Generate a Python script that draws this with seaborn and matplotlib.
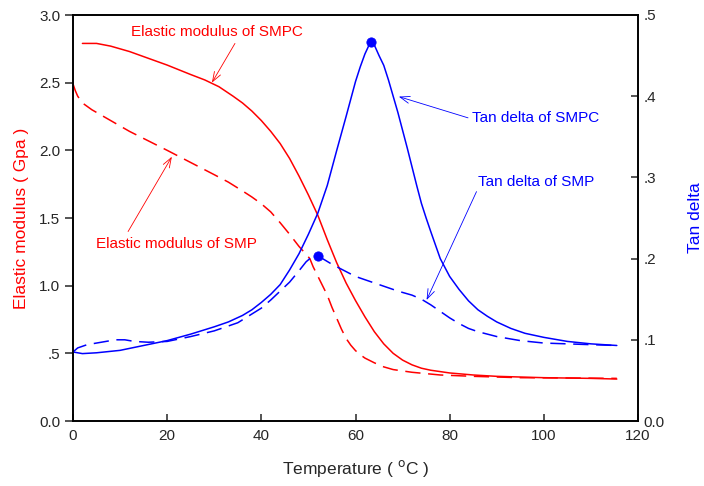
import numpy as np
import pandas as pd
import matplotlib
matplotlib.use("Agg")
import matplotlib.pyplot as plt
import matplotlib.ticker as mtick
import seaborn as sns

# Elastic modulus (GPa), left axis
temp_smpc_mod = [2, 5, 8, 12, 16, 20, 25, 28, 31, 34, 36, 38, 40, 42, 44, 46, 48, 50, 52, 54, 56, 58, 60, 62, 64, 66, 68, 70, 72, 74, 76, 80, 85, 90, 100, 110, 115.5]
mod_smpc = [2.79, 2.79, 2.77, 2.73, 2.68, 2.63, 2.56, 2.52, 2.47, 2.40, 2.35, 2.29, 2.22, 2.14, 2.05, 1.94, 1.81, 1.67, 1.52, 1.34, 1.17, 1.02, 0.89, 0.77, 0.66, 0.57, 0.50, 0.45, 0.415, 0.39, 0.375, 0.355, 0.34, 0.33, 0.32, 0.315, 0.31]

temp_smp_mod = [0, 0.5, 1, 2, 4, 8, 12, 16, 20, 25, 30, 33, 36, 38, 40, 42, 44, 46, 48, 50.3, 51, 52, 53, 54, 55, 56, 57, 58, 59, 60, 61, 62, 64, 66, 68, 72, 78, 85, 95, 105, 115.5]
mod_smp = [2.49, 2.44, 2.40, 2.35, 2.30, 2.22, 2.14, 2.07, 2.00, 1.91, 1.82, 1.765, 1.70, 1.655, 1.605, 1.545, 1.465, 1.38, 1.29, 1.20, 1.14, 1.07, 1.00, 0.93, 0.84, 0.76, 0.68, 0.61, 0.56, 0.52, 0.49, 0.465, 0.43, 0.40, 0.38, 0.36, 0.34, 0.33, 0.32, 0.318, 0.315]

# Tan delta, right axis
temp_smpc_tan = [0, 2, 5, 10, 15, 20, 25, 30, 33, 36, 38, 40, 42, 44, 46, 48, 50, 52, 54, 56, 58, 60, 61, 62, 63.2, 64, 65, 66, 67, 68, 69, 70, 71, 72, 73, 74, 75, 76, 78, 80, 82, 84, 86, 88, 90, 93, 96, 100, 105, 110, 115.5]
tan_smpc = [0.085, 0.083, 0.084, 0.087, 0.093, 0.099, 0.107, 0.116, 0.122, 0.130, 0.137, 0.146, 0.156, 0.168, 0.186, 0.206, 0.230, 0.256, 0.290, 0.333, 0.375, 0.418, 0.436, 0.452, 0.467, 0.463, 0.450, 0.438, 0.420, 0.400, 0.380, 0.358, 0.336, 0.313, 0.290, 0.268, 0.250, 0.233, 0.200, 0.178, 0.162, 0.148, 0.137, 0.129, 0.122, 0.114, 0.108, 0.103, 0.098, 0.095, 0.093]

temp_smp_tan = [0, 1, 3, 6, 9, 11, 13, 16, 20, 25, 30, 35, 40, 42, 44, 46, 48, 49.5, 50.3, 52, 53, 55, 57, 60, 63, 66, 69, 72, 74, 76, 78, 80, 82, 84, 86, 88, 90, 95, 100, 105, 110, 115.5]
tan_smp = [0.085, 0.090, 0.094, 0.097, 0.100, 0.100, 0.098, 0.097, 0.098, 0.104, 0.111, 0.121, 0.139, 0.149, 0.160, 0.171, 0.185, 0.196, 0.200, 0.203, 0.200, 0.193, 0.187, 0.178, 0.172, 0.166, 0.160, 0.155, 0.150, 0.143, 0.135, 0.127, 0.120, 0.114, 0.110, 0.107, 0.104, 0.099, 0.096, 0.095, 0.094, 0.093]

# peak markers
peak_temp = [63.2, 52.0]
peak_tan = [0.467, 0.203]

RED = "#ff0000"
BLUE = "#0000ff"

sns.set_style("white")
plt.rcParams['font.family'] = ['Liberation Sans', 'DejaVu Sans']

fig = plt.figure(figsize=(7.04, 4.86), dpi=100)
ax = fig.add_axes([73 / 704, 65 / 486, 565 / 704, 406 / 486])
ax2 = ax.twinx()

sns.lineplot(x=temp_smpc_mod, y=mod_smpc, ax=ax, color=RED, linewidth=1.1)
sns.lineplot(x=temp_smp_mod, y=mod_smp, ax=ax, color=RED, linewidth=1.1, linestyle=(0, (10, 5)))
sns.lineplot(x=temp_smpc_tan, y=tan_smpc, ax=ax2, color=BLUE, linewidth=1.1)
sns.lineplot(x=temp_smp_tan, y=tan_smp, ax=ax2, color=BLUE, linewidth=1.1, linestyle=(0, (10, 5)))
sns.scatterplot(x=peak_temp, y=peak_tan, ax=ax2, color=BLUE, s=45, edgecolor=BLUE, zorder=5)

ax.set_xlim(0, 120)
ax.set_ylim(0, 3.0)
ax2.set_ylim(0, 0.5)
ax.set_xticks(np.arange(0, 121, 20))
ax.set_yticks(np.arange(0, 3.01, 0.5))
ax2.set_yticks(np.arange(0, 0.51, 0.1))


def strip_zero(v, _):
    if abs(v) < 1e-9:
        return "0.0"
    s = f"{v:.1f}"
    return s[1:] if s.startswith("0") else s


ax.yaxis.set_major_formatter(mtick.FuncFormatter(strip_zero))
ax2.yaxis.set_major_formatter(mtick.FuncFormatter(strip_zero))

for a in (ax, ax2):
    for sp in a.spines.values():
        sp.set_color("black")
        sp.set_linewidth(1.2)
ax.tick_params(axis='y', direction='out', length=6, width=1.1, labelsize=11, left=True, pad=3)
ax.tick_params(axis='x', direction='in', length=5, width=1.1, labelsize=11, bottom=True, pad=6)
ax2.tick_params(axis='y', direction='in', length=5, width=1.1, labelsize=11, right=True, pad=4)

ax.set_xlabel("Temperature ( $^{\\rm o}$C )", fontsize=12.5)
ax.set_ylabel("Elastic modulus ( Gpa )", fontsize=12.5, color=RED)
ax2.set_ylabel("Tan delta", fontsize=12.5, color=BLUE)
ax.xaxis.set_label_coords(0.5, -0.116)
ax.yaxis.set_label_coords(-0.092, 0.5)
ax2.yaxis.set_label_coords(1.101, 0.5)
ax.xaxis.label.set_va('center')
ax.yaxis.label.set_va('center')
ax2.yaxis.label.set_va('center')

arrow_red = dict(arrowstyle='->,head_length=0.7,head_width=0.25', color=RED, lw=0.6, shrinkA=0, shrinkB=0)
arrow_blue = dict(arrowstyle='->,head_length=0.7,head_width=0.25', color=BLUE, lw=0.6, shrinkA=0, shrinkB=0)

ax.text(30.6, 2.875, "Elastic modulus of SMPC", color=RED, fontsize=11, ha='center', va='center')
ax.annotate("", xy=(29.5, 2.50), xytext=(34.4, 2.79), arrowprops=arrow_red)

ax.text(21.9, 1.31, "Elastic modulus of SMP", color=RED, fontsize=11, ha='center', va='center')
ax.annotate("", xy=(21.0, 1.953), xytext=(11.7, 1.40), arrowprops=arrow_red)

ax.text(98.3, 2.24, "Tan delta of SMPC", color=BLUE, fontsize=11, ha='center', va='center')
ax.annotate("", xy=(69.2, 2.397), xytext=(83.9, 2.24), arrowprops=arrow_blue)

ax.text(98.3, 1.766, "Tan delta of SMP", color=BLUE, fontsize=11, ha='center', va='center')
ax.annotate("", xy=(75.1, 0.894), xytext=(85.7, 1.695), arrowprops=arrow_blue)

fig.savefig("out.png", dpi=100)
